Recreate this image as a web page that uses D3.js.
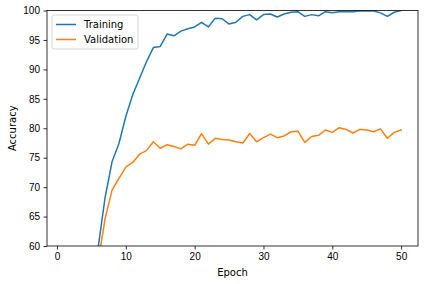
<!DOCTYPE html>
<html>
<head>
<meta charset="utf-8">
<script src="https://cdn.jsdelivr.net/npm/d3@7"></script>
<style>
  body { margin: 0; background: #fff; }
  svg { display: block; font-family: "DejaVu Sans", sans-serif; }
  .axis text { font-size: 10px; fill: #000; }
  .axis path, .axis line { stroke: #000; stroke-width: 0.8; }
</style>
</head>
<body>
<div id="chart"></div>
<script>
// epochs 1-5 sit below the visible range, so only 6..50 are kept
const epochs = d3.range(6, 51);
const training = [
  59.9, 68.3, 74.3, 77.4, 82.0, 85.7, 88.5, 91.3, 93.7, 93.9,
  96.0, 95.7, 96.5, 96.9, 97.2, 98.0, 97.2, 98.7, 98.6, 97.7,
  98.0, 99.0, 99.3, 98.4, 99.3, 99.4, 98.9, 99.4, 99.7, 99.8,
  99.0, 99.3, 99.1, 99.8, 99.6, 99.8, 99.8, 99.8, 99.9, 99.9,
  99.9, 99.6, 99.0, 99.7, 100.0
];
const validation = [
  57.5, 64.7, 69.5, 71.5, 73.4, 74.2, 75.6, 76.2, 77.7, 76.6,
  77.2, 76.9, 76.5, 77.3, 77.1, 79.1, 77.3, 78.3, 78.1, 78.0,
  77.7, 77.5, 79.1, 77.7, 78.4, 79.0, 78.4, 78.7, 79.4, 79.5,
  77.6, 78.6, 78.8, 79.7, 79.3, 80.1, 79.8, 79.2, 79.8, 79.7,
  79.4, 79.9, 78.3, 79.3, 79.7
];
const xTicks = [0, 10, 20, 30, 40, 50];
const yTicks = [60, 65, 70, 75, 80, 85, 90, 95, 100];
const seriesNames = ['Training', 'Validation'];
const seriesColors = ['#1f77b4', '#ff7f0e'];

const width = 424, height = 284;
const margin = { top: 10.5, right: 6, bottom: 38, left: 47 };
const innerW = width - margin.left - margin.right;
const innerH = height - margin.top - margin.bottom;

const svg = d3.select('#chart').append('svg')
  .attr('width', width).attr('height', height);

const g = svg.append('g').attr('transform', `translate(${margin.left},${margin.top})`);

const x = d3.scaleLinear().domain([-1.45, 52.45]).range([0, innerW]);
const y = d3.scaleLinear().domain([60, 100]).range([innerH, 0]);

svg.append('defs').append('clipPath').attr('id', 'plot-clip')
  .append('rect').attr('width', innerW).attr('height', innerH);

const line = d3.line().x(d => x(d[0])).y(d => y(d[1]));
const series = [training, validation];

const linesG = g.append('g').attr('clip-path', 'url(#plot-clip)');
series.forEach((vals, i) => {
  linesG.append('path')
    .datum(epochs.map((e, j) => [e, vals[j]]))
    .attr('fill', 'none')
    .attr('stroke', seriesColors[i])
    .attr('stroke-width', 1.5)
    .attr('stroke-linejoin', 'round')
    .attr('stroke-linecap', 'square')
    .attr('d', line);
});

const xAxisG = g.append('g').attr('class', 'axis')
  .attr('transform', `translate(0,${innerH})`)
  .call(d3.axisBottom(x).tickValues(xTicks).tickSize(3.5).tickPadding(3.5));
const yAxisG = g.append('g').attr('class', 'axis')
  .call(d3.axisLeft(y).tickValues(yTicks).tickSize(3.5).tickPadding(3.5));
[xAxisG, yAxisG].forEach(a => a.select('.domain').remove());

// frame
g.append('rect')
  .attr('width', innerW).attr('height', innerH)
  .attr('fill', 'none').attr('stroke', '#000').attr('stroke-width', 0.8);

g.append('text')
  .attr('x', innerW / 2).attr('y', innerH + 29.5)
  .attr('text-anchor', 'middle').attr('font-size', 10)
  .text('Epoch');
g.append('text')
  .attr('transform', 'rotate(-90)')
  .attr('x', -innerH / 2).attr('y', -31)
  .attr('text-anchor', 'middle').attr('font-size', 10)
  .text('Accuracy');

// legend
const legend = g.append('g').attr('transform', 'translate(5,4.5)');
legend.append('rect')
  .attr('width', 86).attr('height', 34).attr('rx', 2)
  .attr('fill', '#fff').attr('fill-opacity', 0.8)
  .attr('stroke', '#ccc').attr('stroke-width', 0.8);
seriesNames.forEach((name, i) => {
  const row = legend.append('g').attr('transform', `translate(0,${9.5 + i * 15})`);
  row.append('line')
    .attr('x1', 4).attr('x2', 24)
    .attr('stroke', seriesColors[i]).attr('stroke-width', 1.5);
  row.append('text')
    .attr('x', 32).attr('dy', '0.35em').attr('font-size', 10)
    .text(name);
});
</script>
</body>
</html>
